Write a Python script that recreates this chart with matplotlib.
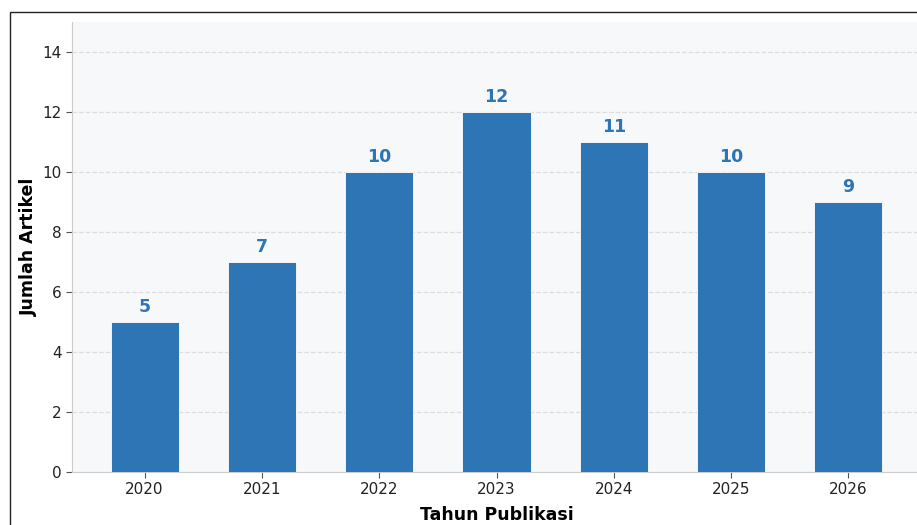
import matplotlib.pyplot as plt
from matplotlib.patches import Rectangle

years = ['2020', '2021', '2022', '2023', '2024', '2025', '2026']
counts = [5, 7, 10, 12, 11, 10, 9]

W, H = 917, 525
BLUE = '#2e75b6'

fig = plt.figure(figsize=(W / 100, H / 100), dpi=100)
fig.patch.set_facecolor('white')

# frame of the original (cropped) figure
fig.patches.append(Rectangle((10 / W, -0.1), 1.2, (H - 12) / H + 0.1,
                             transform=fig.transFigure, fill=False,
                             edgecolor='#222222', lw=1.0))

ax = fig.add_axes([72 / W, (H - 472) / H, (921 - 72) / W, (472 - 22) / H])
ax.set_facecolor('#f7f8fa')

x = range(len(years))
ax.bar(x, counts, width=0.58, color=BLUE, edgecolor='white', lw=0.6, zorder=3)
for xi, c in zip(x, counts):
    ax.text(xi, c + 0.2, str(c), ha='center', va='bottom',
            fontsize=12.5, fontweight='bold', color=BLUE)

ax.set_xticks(list(x))
ax.set_xticklabels(years, fontsize=11)
ax.set_ylim(0, 15)
ax.set_yticks(range(0, 15, 2))
ax.tick_params(axis='y', labelsize=11)
ax.tick_params(colors='#555555', labelcolor='#222222', length=4)
ax.grid(axis='y', ls='--', color='#dcdde0', lw=0.9, zorder=0)

for s in ['top', 'right']:
    ax.spines[s].set_visible(False)
for s in ['left', 'bottom']:
    ax.spines[s].set_color('#cccccc')

ax.set_xlabel('Tahun Publikasi', fontsize=12.5, fontweight='bold', labelpad=6)
ax.set_ylabel('Jumlah Artikel', fontsize=12.5, fontweight='bold', labelpad=3)

fig.savefig('out.png', dpi=100)
